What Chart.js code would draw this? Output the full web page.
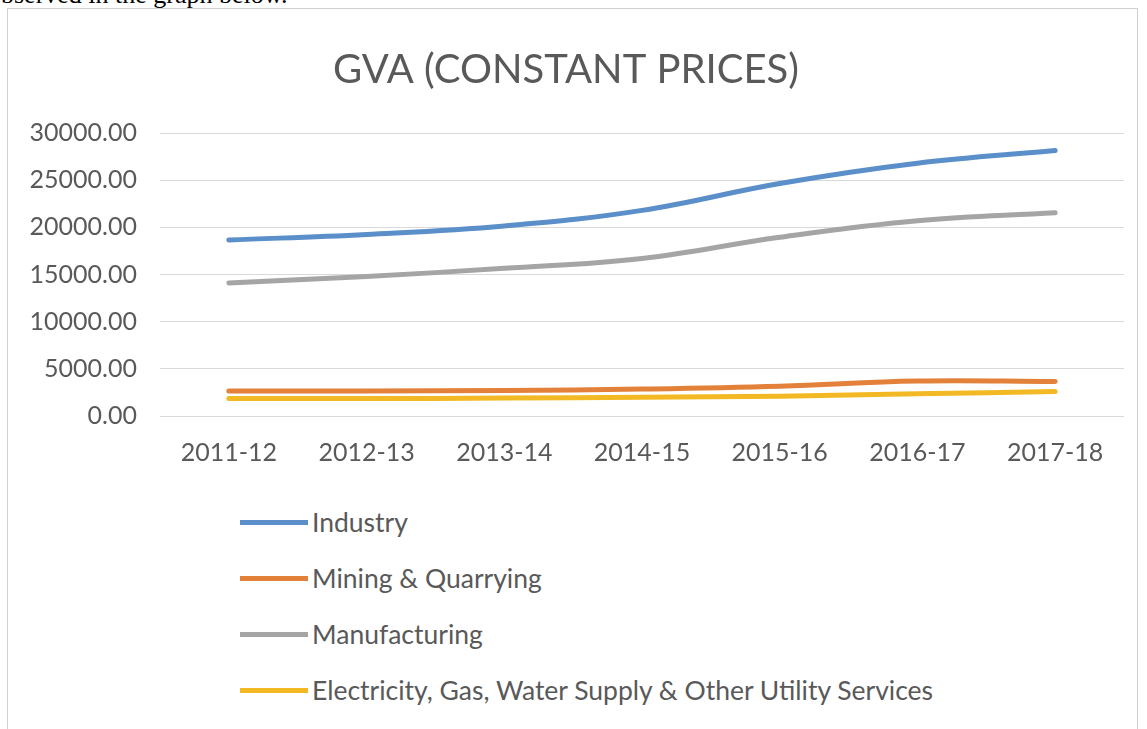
<!DOCTYPE html>
<html>
<head>
<meta charset="utf-8">
<script src="https://cdn.jsdelivr.net/npm/chart.js@4/dist/chart.umd.min.js"></script>
<style>
  html, body { margin: 0; padding: 0; background: #fff; overflow: hidden; }
  body { width: 1147px; height: 729px; position: relative; }
  .lead {
    position: absolute; left: -12px; top: -20px;
    font-family: "Liberation Serif", serif; font-size: 26px; color: #000;
    white-space: nowrap;
  }
  .frame {
    position: absolute; left: 7px; top: 8px; width: 1129px; height: 760px;
    border: 1px solid #d0d0d0; background: #fff;
  }
  .chart-box { position: absolute; left: 0; top: 0; width: 1129px; height: 480px; }
  .legend { position: absolute; left: 0; top: 0; }
  .legend-item {
    position: absolute; white-space: nowrap;
    font-family: Lato, sans-serif; font-size: 26.5px; color: #595959;
    display: flex; align-items: center;
  }
  .legend-item span.swatch { display: inline-block; width: 68px; height: 5px; margin-right: 4px; }
</style>
</head>
<body>
<div class="lead">observed in the graph below.</div>
<div class="frame">
  <div class="chart-box"><canvas id="gvaChart"></canvas></div>
  <div class="legend" id="gvaLegend"></div>
</div>
<script>
// years on the x axis
const years = ['2011-12', '2012-13', '2013-14', '2014-15', '2015-16', '2016-17', '2017-18'];

// values
const industry = [18650, 19250, 20150, 21800, 24650, 26800, 28150];
const mining = [2650, 2650, 2700, 2850, 3150, 3700, 3650];
const manufacturing = [14100, 14800, 15650, 16700, 18950, 20700, 21550];
const electricity = [1850, 1850, 1900, 2000, 2100, 2350, 2600];

const seriesNames = ['Industry', 'Mining & Quarrying', 'Manufacturing', 'Electricity, Gas, Water Supply & Other Utility Services'];
const seriesColors = ['#5b8fc9', '#e3803a', '#a5a5a5', '#f2b924'];

const textColor = '#595959';

const makeSet = (i, data) => ({
  label: seriesNames[i],
  data: data,
  borderColor: seriesColors[i],
  backgroundColor: seriesColors[i],
  borderWidth: 5,
  pointRadius: 0,
  tension: 0.4,
  borderCapStyle: 'round',
  fill: false
});

const ctx = document.getElementById('gvaChart').getContext('2d');
const chart = new Chart(ctx, {
  type: 'line',
  data: {
    labels: years,
    datasets: [
      makeSet(0, industry),
      makeSet(1, mining),
      makeSet(2, manufacturing),
      makeSet(3, electricity)
    ]
  },
  options: {
    responsive: true,
    maintainAspectRatio: false,
    animation: false,
    layout: { padding: { left: 0, right: 13, top: 0, bottom: 0 } },
    plugins: {
      legend: { display: false },
      tooltip: { enabled: false },
      title: {
        display: true,
        text: 'GVA (CONSTANT PRICES)',
        color: textColor,
        font: { family: 'Lato', size: 40, weight: 'normal' },
        padding: { top: 37, bottom: 39 }
      }
    },
    scales: {
      x: {
        offset: true,
        grid: { display: false, drawTicks: false },
        border: { display: false },
        ticks: {
          color: textColor,
          font: { family: 'Lato', size: 25 },
          padding: 22,
          maxRotation: 0
        },
        afterFit: (scale) => { scale.height = 73; }
      },
      y: {
        min: 0,
        max: 30000,
        grid: { color: '#d9d9d9', lineWidth: 1, drawTicks: false },
        border: { display: false },
        ticks: {
          stepSize: 5000,
          color: textColor,
          font: { family: 'Lato', size: 25 },
          padding: 23,
          callback: (v) => Number(v).toFixed(2)
        },
        afterFit: (scale) => { scale.width = 152; }
      }
    }
  }
});

// vertical legend under the chart, built from the datasets
const legendEl = document.getElementById('gvaLegend');
chart.data.datasets.forEach((ds, i) => {
  const item = document.createElement('div');
  item.className = 'legend-item';
  item.style.left = '232px';
  item.style.top = (497 + i * 56) + 'px';
  const sw = document.createElement('span');
  sw.className = 'swatch';
  sw.style.background = ds.borderColor;
  const txt = document.createElement('span');
  txt.textContent = ds.label;
  item.appendChild(sw);
  item.appendChild(txt);
  legendEl.appendChild(item);
});
</script>
</body>
</html>
